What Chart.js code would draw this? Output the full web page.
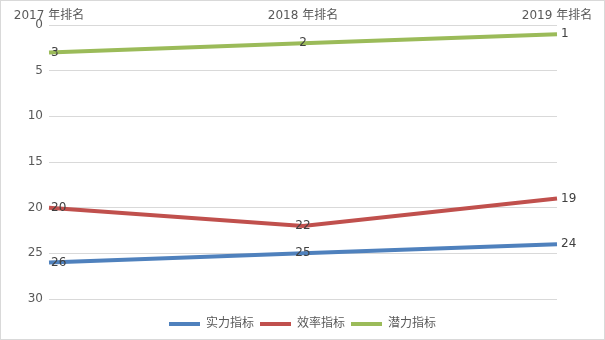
<!DOCTYPE html>
<html>
<head>
<meta charset="utf-8">
<script src="https://cdn.jsdelivr.net/npm/chart.js@4/dist/chart.umd.min.js"></script>
<style>
  html, body { margin: 0; padding: 0; background: #fff; }
  #wrap { width: 605px; height: 340px; box-sizing: border-box; border: 1px solid #d9d9d9; }
</style>
</head>
<body>
<div id="wrap"><canvas id="rank_chart"></canvas></div>
<script>
// rank data
const categories = ['2017 年排名', '2018 年排名', '2019 年排名'];
const shiliRank = [26, 25, 24];   // 实力指标
const xiaolvRank = [20, 22, 19];  // 效率指标
const qianliRank = [3, 2, 1];     // 潜力指标
const yTicks = [0, 5, 10, 15, 20, 25, 30];

const FONT = "'DejaVu Sans', 'Noto Sans CJK SC', sans-serif";

// draws the value next to each point, like the excel data labels
const pointLabels = {
    id: 'pointLabels',
    afterDatasetsDraw(chart) {
        const ctx = chart.ctx;
        ctx.save();
        ctx.font = '12px ' + FONT;
        ctx.fillStyle = '#404040';
        ctx.textBaseline = 'middle';
        chart.data.datasets.forEach((ds, i) => {
            const meta = chart.getDatasetMeta(i);
            meta.data.forEach((pt, j) => {
                let x = pt.x;
                if (j === 0) { ctx.textAlign = 'left'; x += 2; }
                else if (j === meta.data.length - 1) { ctx.textAlign = 'left'; x += 4; }
                else { ctx.textAlign = 'center'; }
                ctx.fillText(String(ds.data[j]), x, pt.y);
            });
        });
        ctx.restore();
    }
};

// legend sits lower and is centred on the whole canvas, not the plot
const legendPlace = {
    id: 'legendPlace',
    afterLayout(chart) {
        const lg = chart.legend;
        if (!lg) return;
        lg.top += 13;
        lg.bottom += 13;
        lg.left = 0;
        lg.right = chart.width;
        lg.width = chart.width;
    }
};

const ctx = document.getElementById('rank_chart').getContext('2d');
const rankChart = new Chart(ctx, {
    type: 'line',
    data: {
        labels: categories,
        datasets: [
            {
                label: '实力指标',
                data: shiliRank,
                borderColor: '#4f81bd',
                backgroundColor: '#4f81bd',
                borderWidth: 4,
                pointRadius: 0
            },
            {
                label: '效率指标',
                data: xiaolvRank,
                borderColor: '#c0504d',
                backgroundColor: '#c0504d',
                borderWidth: 4,
                pointRadius: 0
            },
            {
                label: '潜力指标',
                data: qianliRank,
                borderColor: '#9bbb59',
                backgroundColor: '#9bbb59',
                borderWidth: 4,
                pointRadius: 0
            }
        ]
    },
    options: {
        responsive: true,
        maintainAspectRatio: false,
        animation: false,
        layout: { padding: { left: 0, right: 47, top: 0, bottom: 12 } },
        scales: {
            x: {
                position: 'top',
                offset: false,
                grid: { display: false },
                border: { display: false },
                ticks: { color: '#595959', font: { family: FONT, size: 12 }, padding: -6, maxRotation: 0 },
                afterFit: (scale) => { scale.height = 24; }
            },
            y: {
                reverse: true,
                min: 0,
                max: 30,
                afterBuildTicks: (scale) => { scale.ticks = yTicks.map(v => ({ value: v })); },
                grid: { color: '#d9d9d9', lineWidth: 1, drawTicks: false },
                border: { display: false },
                ticks: { color: '#595959', font: { family: FONT, size: 12 }, padding: 6 },
                afterFit: (scale) => { scale.width = 48; }
            }
        },
        plugins: {
            legend: {
                display: true,
                position: 'bottom',
                labels: {
                    boxWidth: 31,
                    boxHeight: 4,
                    padding: 6,
                    color: '#595959',
                    font: { family: FONT, size: 12 },
                    generateLabels: (chart) => chart.data.datasets.map((ds, i) => ({
                        text: ds.label,
                        fillStyle: ds.borderColor,
                        strokeStyle: ds.borderColor,
                        lineWidth: 0,
                        fontColor: '#595959',
                        datasetIndex: i
                    }))
                }
            },
            tooltip: { enabled: false }
        }
    },
    plugins: [pointLabels, legendPlace]
});
</script>
</body>
</html>
